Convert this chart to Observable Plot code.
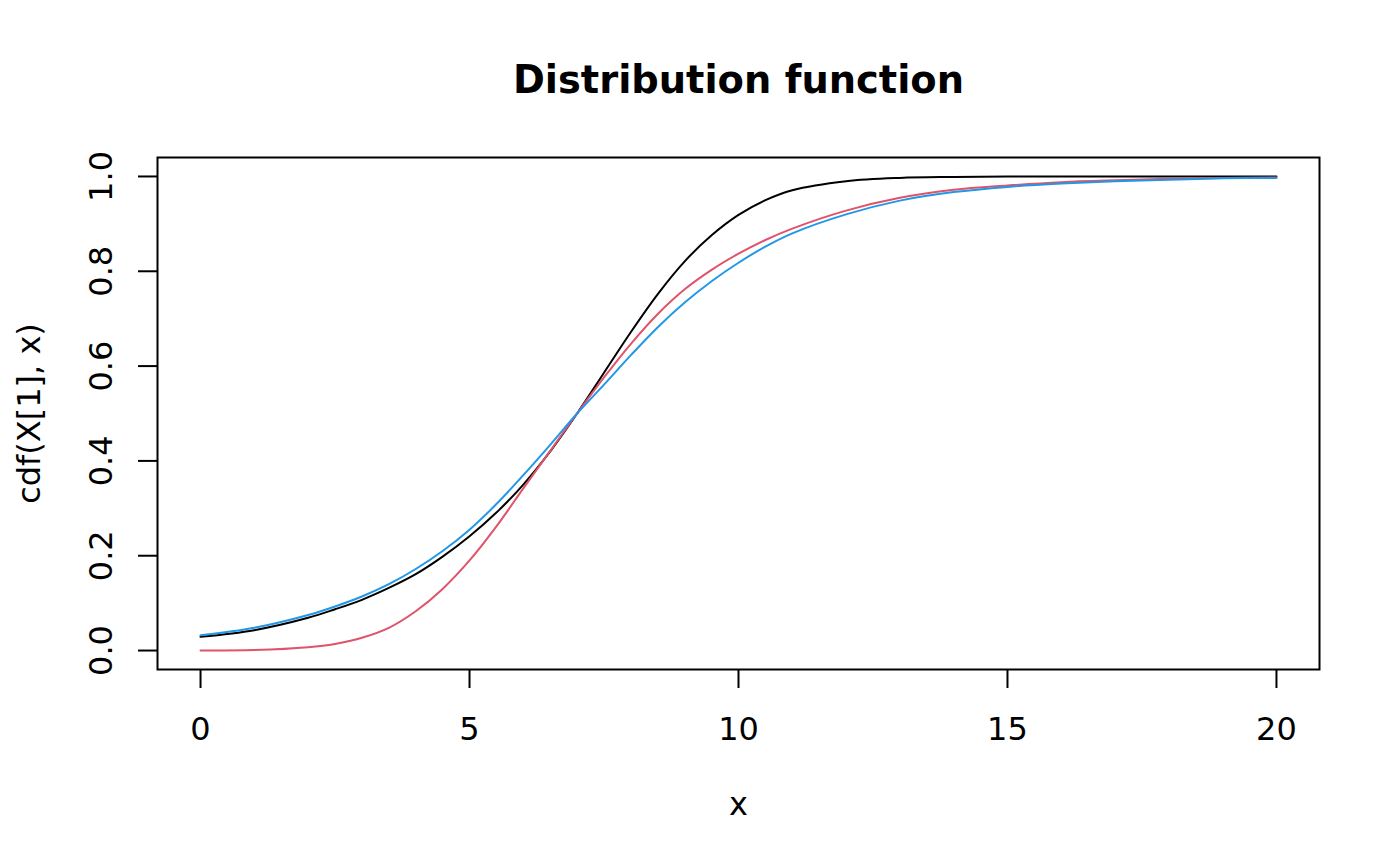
<!DOCTYPE html>
<html>
<head>
<meta charset="utf-8">
<script src="https://cdn.jsdelivr.net/npm/d3@7"></script>
<script src="https://cdn.jsdelivr.net/npm/@observablehq/plot@0.6"></script>
<style>
  html, body { margin: 0; padding: 0; background: white; }
</style>
</head>
<body>
<div id="chart"></div>
<script>
const titleText = "Distribution function";
const xLabel = "x";
const yLabel = "cdf(X[1], x)";

const xTicks = [0, 5, 10, 15, 20];
const yTicks = [0, 0.2, 0.4, 0.6, 0.8, 1.0];

const xs = [0, 1, 2, 2.5, 3, 3.5, 4, 4.5, 5, 5.5, 6, 6.5, 7, 7.5, 8, 8.5, 9, 9.5, 10, 10.5, 11, 12, 13, 14, 15, 16, 17, 18, 19, 20];

const cdf1 = [0.029, 0.043, 0.069, 0.087, 0.107, 0.132, 0.161, 0.198, 0.241, 0.291, 0.350, 0.420, 0.500, 0.586, 0.672, 0.752, 0.821, 0.876, 0.919, 0.950, 0.971, 0.990, 0.997, 0.999, 1.000, 1.000, 1.000, 1.000, 1.000, 1.000];
const cdf2 = [0.000, 0.001, 0.007, 0.014, 0.027, 0.048, 0.083, 0.130, 0.190, 0.262, 0.342, 0.421, 0.500, 0.576, 0.647, 0.710, 0.762, 0.803, 0.837, 0.866, 0.890, 0.928, 0.955, 0.972, 0.981, 0.988, 0.992, 0.995, 0.997, 0.998];
const cdf3 = [0.032, 0.048, 0.075, 0.093, 0.114, 0.140, 0.172, 0.210, 0.255, 0.309, 0.370, 0.434, 0.500, 0.561, 0.623, 0.682, 0.734, 0.779, 0.818, 0.852, 0.880, 0.920, 0.949, 0.967, 0.978, 0.985, 0.990, 0.993, 0.996, 0.997];

const seriesNames = ["X[1]", "X[2]", "X[3]"];
const seriesColors = ["#000000", "#DF536B", "#2297E6"];
const seriesValues = [cdf1, cdf2, cdf3];

const rows = [];
seriesNames.forEach((name, si) => {
  xs.forEach((x, i) => rows.push({series: name, x, y: seriesValues[si][i]}));
});

const chart = Plot.plot({
  width: 1400,
  height: 866,
  marginLeft: 157,
  marginRight: 81,
  marginTop: 157,
  marginBottom: 197,
  style: {fontFamily: "DejaVu Sans", background: "white", color: "black", overflow: "visible"},
  x: {domain: [-0.8, 20.8], label: null},
  y: {domain: [-0.04, 1.04], label: null},
  color: {type: "ordinal", domain: seriesNames, range: seriesColors},
  marks: [
    Plot.line(rows, {x: "x", y: "y", z: "series", stroke: "series", strokeWidth: 2, curve: "catmull-rom"}),
    Plot.frame({stroke: "black", strokeWidth: 2}),
    Plot.axisX({ticks: xTicks, tickSize: 19, tickPadding: 29, fontSize: 32, strokeWidth: 2, label: null}),
    Plot.axisY({ticks: yTicks, tickSize: 19, tickPadding: 27, tickRotate: -90, tickFormat: d3.format(".1f"), fontSize: 32, strokeWidth: 2, label: null}),
    Plot.text([xLabel], {frameAnchor: "bottom", dy: 145, fontSize: 32, textAnchor: "middle"}),
    Plot.text([yLabel], {frameAnchor: "left", dx: -128, rotate: -90, fontSize: 32, textAnchor: "middle"}),
    Plot.text([titleText], {frameAnchor: "top", dy: -92, fontSize: 38.4, fontWeight: "bold", textAnchor: "middle"})
  ]
});
document.getElementById("chart").appendChild(chart);
</script>
</body>
</html>
